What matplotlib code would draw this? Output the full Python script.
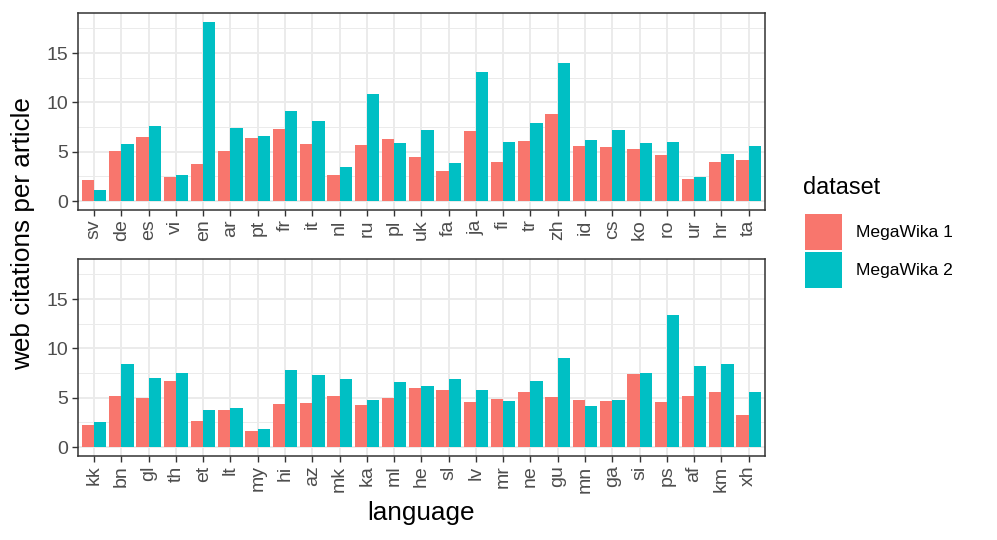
import numpy as np
import matplotlib as mpl
mpl.use("Agg")
import matplotlib.pyplot as plt
from matplotlib.patches import Patch

mpl.rcParams.update({
    "font.family": ["Liberation Sans", "DejaVu Sans"],
    "axes.linewidth": 1.1,
})

# --- data -------------------------------------------------------------------
langs_top = ["sv", "de", "es", "vi", "en", "ar", "pt", "fr", "it", "nl", "ru", "pl", "uk",
             "fa", "ja", "fi", "tr", "zh", "id", "cs", "ko", "ro", "ur", "hr", "ta"]
mw1_top = [2.18, 5.12, 6.46, 2.44, 3.78, 5.06, 6.43, 7.33, 5.79, 2.61, 5.66, 6.31, 4.45,
           3.01, 7.07, 3.99, 6.10, 8.81, 5.53, 5.43, 5.32, 4.69, 2.21, 3.99, 4.12]
mw2_top = [1.07, 5.83, 7.64, 2.65, 18.15, 7.43, 6.63, 9.11, 8.10, 3.45, 10.82, 5.89, 7.17,
           3.82, 13.06, 5.96, 7.90, 14.0, 6.23, 7.20, 5.93, 5.99, 2.41, 4.76, 5.53]

langs_bot = ["kk", "bn", "gl", "th", "et", "lt", "my", "hi", "az", "mk", "ka", "ml", "he",
             "sl", "lv", "mr", "ne", "gu", "mn", "ga", "si", "ps", "af", "km", "xh"]
mw1_bot = [2.27, 5.15, 4.98, 6.69, 2.61, 3.75, 1.64, 4.41, 4.45, 5.15, 4.28, 4.95, 5.95,
           5.79, 4.55, 4.85, 5.59, 5.08, 4.72, 4.65, 7.39, 4.55, 5.15, 5.55, 3.28]
mw2_bot = [2.58, 8.39, 6.96, 7.53, 3.75, 3.95, 1.81, 7.83, 7.29, 6.92, 4.78, 6.56, 6.19,
           6.86, 5.79, 4.65, 6.69, 9.06, 4.18, 4.78, 7.49, 13.38, 8.26, 8.46, 5.59]

series = ["MegaWika 1", "MegaWika 2"]
COLS = ["#F8766D", "#00BFC4"]
GRID = "#EBEBEB"
DARK = "#333333"
TICKC = "#4D4D4D"

W, H = 997, 540
fig = plt.figure(figsize=(W / 100, H / 100), dpi=100)


def px_axes(left, top, right, bottom):
    return fig.add_axes([left / W, 1 - bottom / H, (right - left) / W, (bottom - top) / H])


ax_top = px_axes(77.7, 13, 765, 210)
ax_bot = px_axes(77.7, 259, 765, 456)

ymax = max(max(mw2_top), max(mw2_bot), max(mw1_top), max(mw1_bot))
ylim = (-0.05 * ymax, 1.05 * ymax)

for ax, langs, a, b in [(ax_top, langs_top, mw1_top, mw2_top),
                        (ax_bot, langs_bot, mw1_bot, mw2_bot)]:
    x = np.arange(1, len(langs) + 1)
    w = 0.45
    ax.bar(x - w / 2, a, w, color=COLS[0], linewidth=0, zorder=3)
    ax.bar(x + w / 2, b, w, color=COLS[1], linewidth=0, zorder=3)
    ax.set_xlim(0.4, len(langs) + 0.6)
    ax.set_ylim(*ylim)
    ax.set_yticks([0, 5, 10, 15])
    ax.set_yticks([2.5, 7.5, 12.5, 17.5], minor=True)
    ax.set_xticks(x)
    ax.set_xticklabels(langs, rotation=90, va="top", ha="center")
    ax.grid(True, which="major", color=GRID, lw=1.4, zorder=0)
    ax.grid(True, which="minor", axis="y", color=GRID, lw=0.7, zorder=0)
    ax.set_axisbelow(True)
    ax.tick_params(axis="both", which="major", length=4.3, width=1.0, color=DARK,
                   labelsize=14, labelcolor=TICKC, pad=2.5)
    ax.tick_params(axis="y", which="minor", length=0)
    for s in ax.spines.values():
        s.set_color(DARK)
        s.set_linewidth(1.1)

fig.text(23 / W, 1 - 234 / H, "web citations per article", rotation=90,
         ha="center", va="center", fontsize=18.8)
fig.text(421 / W, 1 - 513 / H, "language", ha="center", va="center", fontsize=18.8)

fig.text(803 / W, 1 - 188 / H, "dataset", ha="left", va="center", fontsize=16.9)
handles = [Patch(facecolor=c, edgecolor="none") for c in COLS]
leg = fig.legend(handles, series, loc="upper left",
                 bbox_to_anchor=(805 / W, 1 - 214 / H), frameon=False,
                 fontsize=12.6, handlelength=2.1, handleheight=2.75,
                 labelspacing=0.15, handletextpad=0.8, borderpad=0, borderaxespad=0)

fig.savefig("out.png", dpi=100)
